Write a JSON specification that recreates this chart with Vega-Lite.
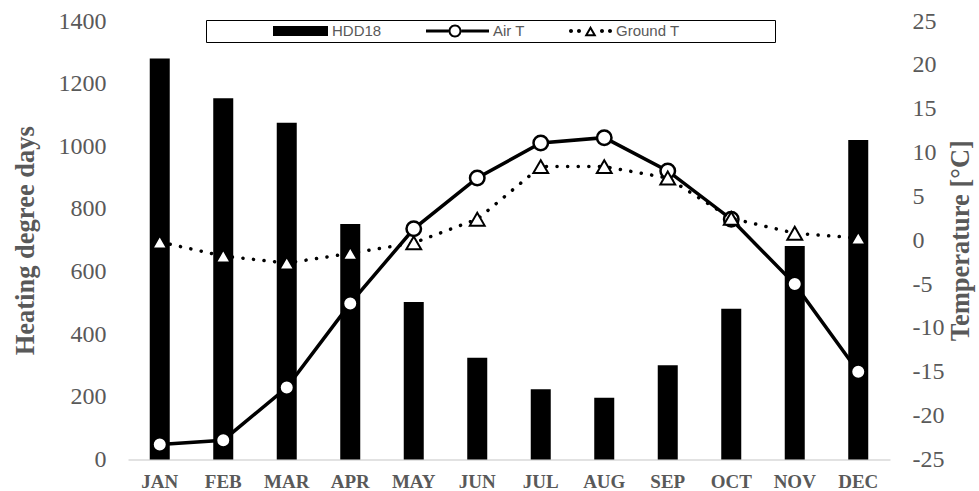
{
  "$schema": "https://vega.github.io/schema/vega-lite/v6.json",
  "width": 762,
  "height": 438.5,
  "autosize": {"type": "none"},
  "padding": {"left": 128, "top": 21, "right": 89, "bottom": 31.5},
  "background": "white",
  "config": {
    "view": {"stroke": null},
    "axis": {"grid": false, "ticks": false, "domain": false}
  },
  "data": {
    "values": [
      {"month": "JAN", "hdd": 1280, "air": -23.3, "ground": -0.2},
      {"month": "FEB", "hdd": 1153, "air": -22.8, "ground": -1.8},
      {"month": "MAR", "hdd": 1075, "air": -16.8, "ground": -2.6},
      {"month": "APR", "hdd": 752, "air": -7.2, "ground": -1.5},
      {"month": "MAY", "hdd": 503, "air": 1.3, "ground": -0.3},
      {"month": "JUN", "hdd": 325, "air": 7.1, "ground": 2.4},
      {"month": "JUL", "hdd": 224, "air": 11.1, "ground": 8.4},
      {"month": "AUG", "hdd": 197, "air": 11.7, "ground": 8.4},
      {"month": "SEP", "hdd": 301, "air": 7.9, "ground": 7.1},
      {"month": "OCT", "hdd": 481, "air": 2.4, "ground": 2.5},
      {"month": "NOV", "hdd": 682, "air": -5.0, "ground": 0.8},
      {"month": "DEC", "hdd": 1020, "air": -15.0, "ground": 0.25}
    ]
  },
  "encoding": {
    "x": {
      "field": "month",
      "type": "ordinal",
      "sort": null,
      "scale": {"paddingInner": 0.685, "paddingOuter": 0.3425},
      "axis": {
        "title": null,
        "labelAngle": 0,
        "labelFont": "Liberation Serif",
        "labelFontSize": 19,
        "labelFontWeight": "bold",
        "labelColor": "#595959",
        "labelPadding": 13,
        "domain": true,
        "domainColor": "#d9d9d9",
        "domainWidth": 1.5
      }
    }
  },
  "layer": [
    {
      "mark": {"type": "bar", "color": "black"},
      "encoding": {
        "y": {
          "field": "hdd",
          "type": "quantitative",
          "title": "Heating degree days",
          "scale": {"domain": [0, 1400], "nice": false},
          "axis": {
            "values": [0, 200, 400, 600, 800, 1000, 1200, 1400],
            "format": "d",
            "labelFont": "Liberation Serif",
            "labelFontSize": 24,
            "labelColor": "#595959",
            "labelPadding": 22,
            "titleFont": "Liberation Serif",
            "titleFontSize": 26.5,
            "titleFontWeight": "bold",
            "titleColor": "#595959",
            "titlePadding": 19
          }
        }
      }
    },
    {
      "layer": [
        {
          "mark": {"type": "line", "color": "black", "strokeWidth": 3.5},
          "encoding": {
            "y": {
              "field": "air",
              "type": "quantitative",
              "title": "Temperature [°C]",
              "scale": {"domain": [-25, 25], "nice": false},
              "axis": {
                "orient": "right",
                "values": [-25, -20, -15, -10, -5, 0, 5, 10, 15, 20, 25],
                "format": "d",
                "labelExpr": "replace(datum.label, '−', '-')",
                "labelFont": "Liberation Serif",
                "labelFontSize": 24,
                "labelColor": "#595959",
                "labelPadding": 22,
                "titleFont": "Liberation Serif",
                "titleFontSize": 26.5,
                "titleFontWeight": "bold",
                "titleColor": "#595959",
                "titleAngle": -90,
                "titleBaseline": "top",
                "titlePadding": 4
              }
            }
          }
        },
        {
          "mark": {"type": "point", "shape": "circle", "filled": true, "fill": "white", "stroke": "black", "strokeWidth": 2.5, "size": 210, "opacity": 1},
          "encoding": {
            "y": {"field": "air", "type": "quantitative", "title": "Temperature [°C]"}
          }
        },
        {
          "mark": {"type": "line", "color": "black", "strokeWidth": 3.5, "strokeDash": [0.1, 10.5], "strokeCap": "round"},
          "encoding": {
            "y": {"field": "ground", "type": "quantitative", "title": "Temperature [°C]"}
          }
        },
        {
          "mark": {"type": "point", "shape": "triangle-up", "filled": true, "fill": "white", "stroke": "black", "strokeWidth": 2, "size": 220, "opacity": 1},
          "encoding": {
            "y": {"field": "ground", "type": "quantitative", "title": "Temperature [°C]"}
          }
        },
        {
          "data": {"values": [{"series": " "}, {"series": "HDD18"}, {"series": "Air T"}, {"series": "Ground T"}]},
          "mark": {"type": "point", "filled": true, "fill": "black", "opacity": 0},
          "encoding": {
            "x": {"value": 0},
            "y": {"value": 0},
            "shape": {
              "field": "series",
              "type": "nominal",
              "scale": {
                "domain": [" ", "HDD18", "Air T", "Ground T"],
                "range": [
                  "M0,0L0,0.01Z",
                  "M-5.875,-0.625H1V0.625H-5.875Z",
                  "M-6.875,-0.1875H-4.0625V0.1875H-6.875Z M-2.4375,-0.1875H1V0.1875H-2.4375Z M-2.4375,0A0.8125,0.8125 0 1,0 -4.0625,0A0.8125,0.8125 0 1,0 -2.4375,0Z M-2.6875,0A0.5625,0.5625 0 1,1 -3.8125,0A0.5625,0.5625 0 1,1 -2.6875,0Z",
                  "M-3.875,0A0.25,0.25 0 1,0 -4.375,0A0.25,0.25 0 1,0 -3.875,0Z M-2.875,0A0.25,0.25 0 1,0 -3.375,0A0.25,0.25 0 1,0 -2.875,0Z M-2.4375,0.65625L-0.9375,0.65625L-1.6875,-0.65625Z M-2.0065,0.406L-1.6875,-0.151L-1.3685,0.406Z M0,0A0.25,0.25 0 1,0 -0.5,0A0.25,0.25 0 1,0 0,0Z M1,0A0.25,0.25 0 1,0 0.5,0A0.25,0.25 0 1,0 1,0Z"
                ]
              },
              "legend": {
                "orient": "none",
                "legendX": 78,
                "legendY": -1,
                "direction": "horizontal",
                "columns": 4,
                "title": " ",
                "titleOrient": "right",
                "titlePadding": 93,
                "symbolSize": 256,
                "symbolFillColor": "black",
                "symbolStrokeWidth": 0,
                "symbolOpacity": 1,
                "labelFont": "Liberation Sans",
                "labelFontSize": 15,
                "labelColor": "#595959",
                "labelOffset": 4,
                "columnPadding": 44,
                "padding": 3,
                "strokeColor": "black"
              }
            }
          }
        }
      ]
    }
  ],
  "resolve": {"scale": {"y": "independent"}}
}
